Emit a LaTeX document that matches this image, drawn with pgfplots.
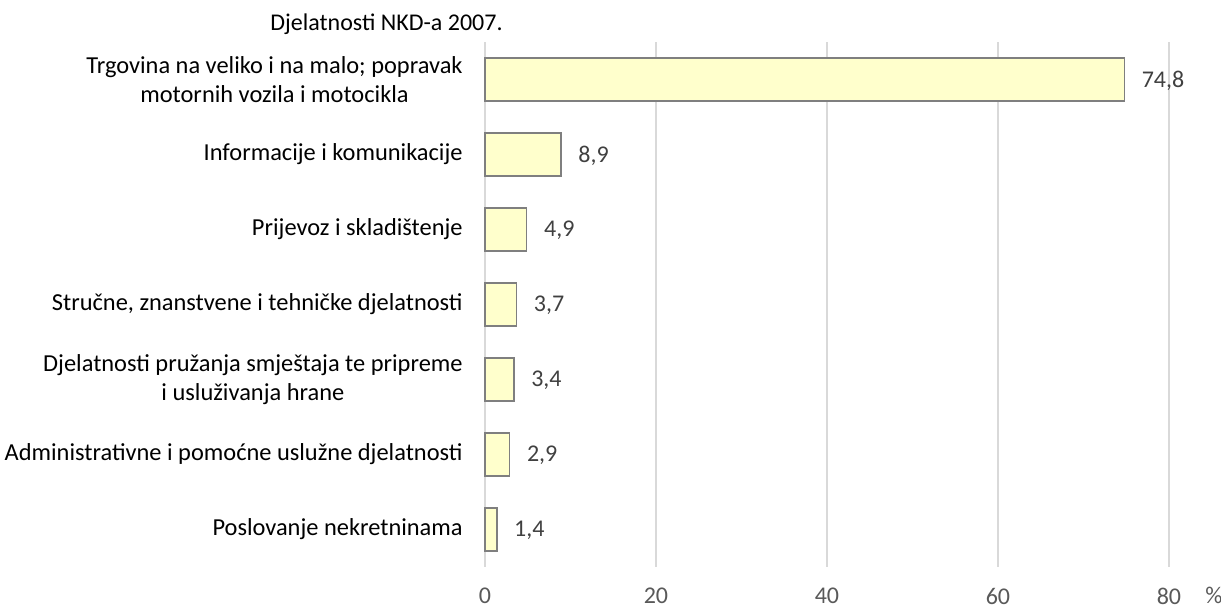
\documentclass[border=0pt]{standalone}
\usepackage{fontspec}
\setmainfont{Carlito}
\usepackage{pgfplots}
\pgfplotsset{compat=1.18}
\definecolor{barfill}{HTML}{FFFFCC}
\definecolor{baredge}{HTML}{7F7F7F}
\definecolor{gridc}{HTML}{D9D9D9}
\definecolor{tickc}{HTML}{595959}
\definecolor{valc}{HTML}{404040}
\begin{document}
\begin{tikzpicture}
\begin{axis}[
  at={(0,0)}, anchor=south west,
  scale only axis,
  width=342pt, height=262.5pt,
  xbar, bar width=21.5pt,
  xmin=0, xmax=80,
  ymin=-0.5, ymax=6.5,
  xtick={0,20,40,60,80},
  ytick={0,1,2,3,4,5,6},
  yticklabels={
    Poslovanje nekretninama,
    Administrativne i pomoćne uslužne djelatnosti,
    {Djelatnosti pružanja smještaja te pripreme\\i usluživanja hrane},
    Stručne{,} znanstvene i tehničke djelatnosti,
    Prijevoz i skladištenje,
    Informacije i komunikacije,
    {Trgovina na veliko i na malo; popravak\\motornih vozila i motocikla}
  },
  major tick length=0pt,
  axis line style={draw=none},
  xmajorgrids, grid style={gridc, line width=0.8pt},
  /pgf/number format/assume math mode=true,
  xticklabel style={font=\fontsize{12}{14}\selectfont, text=tickc, inner sep=0pt, anchor=north, yshift=-10.5pt},
  yticklabel style={font=\fontsize{12.2}{14.2}\selectfont, align=center, inner sep=0pt, xshift=-11pt, anchor=east},
  point meta=explicit symbolic,
  nodes near coords,
  nodes near coords style={font=\fontsize{12}{14}\selectfont, text=valc, anchor=west, xshift=5pt, yshift=-0.5pt},
  clip=false,
]
\addplot[fill=barfill, draw=baredge, line width=0.6pt] coordinates {
  (1.4,0) [{1,4}]
  (2.9,1) [{2,9}]
  (3.4,2) [{3,4}]
  (3.7,3) [{3,7}]
  (4.9,4) [{4,9}]
  (8.9,5) [{8,9}]
  (74.8,6) [{74,8}]
};
\node[anchor=base east, font=\fontsize{12}{14}\selectfont, inner sep=0pt] at ([xshift=9pt, yshift=5.5pt]rel axis cs:0,1) {Djelatnosti NKD-a 2007.};
\node[anchor=north west, font=\fontsize{12}{14}\selectfont, text=tickc, inner sep=0pt] at ([xshift=18pt, yshift=-10pt]rel axis cs:1,0) {\%};
\end{axis}
\pgfresetboundingbox
\path[use as bounding box] (-242.5pt,-20.5pt) rectangle (368pt,283.5pt);
\end{tikzpicture}
\end{document}
